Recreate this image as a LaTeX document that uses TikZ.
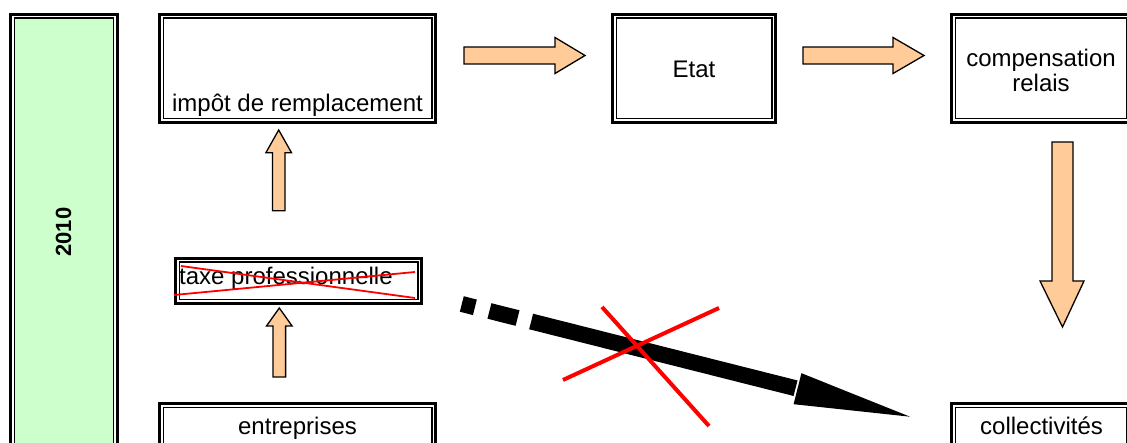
\documentclass[tikz,border=0pt]{standalone}
\usepackage{fontspec}
\setmainfont{Liberation Sans}
\usetikzlibrary{calc}
\definecolor{boxgreen}{HTML}{CCFFCC}
\definecolor{peach}{HTML}{FFCC99}
\newcommand\myUpArrow[4]{% cx, bottom, head base, tip
  \draw[blockarrow] (#1-6.3,#2) -- (#1-6.3,#3) -- (#1-12.8,#3) -- (#1,#4) -- (#1+12.8,#3) -- (#1+6.3,#3) -- (#1+6.3,#2) -- cycle;}
\newcommand\myRightArrow[4]{% cy, left, head base, tip
  \draw[blockarrow] (#2,#1-8.5) -- (#3,#1-8.5) -- (#3,#1-18) -- (#4,#1) -- (#3,#1+18) -- (#3,#1+8.5) -- (#2,#1+8.5) -- cycle;}
\begin{document}
\begin{tikzpicture}[x=1pt,y=-1pt,
  dbox/.style={draw, line width=2.8pt, inner sep=0pt, outer sep=0pt, rectangle},
  innerline/.style={line width=1.5pt},
  txt/.style={inner sep=0pt, anchor=base, font=\fontsize{24}{25}\selectfont},
  blockarrow/.style={draw=black, fill=peach, line width=1.3pt, line join=miter},
  redx/.style={draw=red, line width=4pt},
  redthin/.style={draw=red, line width=1.8pt}]
\useasboundingbox (0,0) rectangle (1127,443);
\clip (0,0) rectangle (1127,443);

% boxes
\node[dbox, minimum width=107pt, minimum height=544.5pt] (year) at (63.75,286.5) {};
\node[dbox, minimum width=276.5pt, minimum height=108.5pt] (imp) at (297.5,68.5) {};
\node[dbox, minimum width=163.5pt, minimum height=108.5pt] (etat) at (694,68.5) {};
\node[dbox, minimum width=179.5pt, minimum height=108.5pt] (comp) at (1041,68.5) {};
\node[dbox, minimum width=246.5pt, minimum height=45.5pt] (taxe) at (298.5,281) {};
\node[dbox, minimum width=276.5pt, minimum height=108.5pt] (entr) at (297.5,457.5) {};
\node[dbox, minimum width=179.5pt, minimum height=108.5pt] (coll) at (1041,457.5) {};

\fill[boxgreen] ([shift={(4.75,4.75)}]year.north west) rectangle ([shift={(-4.75,-4.75)}]year.south east);
\foreach \n in {year,imp,etat,comp,taxe,entr,coll}
  \draw[innerline] ([shift={(4,4)}]\n.north west) rectangle ([shift={(-4,-4)}]\n.south east);

% texts
\node[font=\bfseries\fontsize{22}{24}\selectfont, rotate=90, inner sep=0pt] (yr) at (63.5,232) {2010};
\node[txt] (timp) at (297.5,112) {impôt de remplacement};
\node[txt] (tetat) at (694,78) {Etat};
\node[txt] (tcomp1) at (1041,67) {compensation};
\node[txt] (tcomp2) at (1041,92) {relais};
\node[txt] (tentr) at (297.5,435) {entreprises};
\node[txt] (tcoll) at (1041.5,435) {collectivités};
\node[txt, anchor=base west] (ttaxe) at (179,285) {taxe professionnelle};

% strike-through of taxe professionnelle
\draw[redthin] (181,266) -- (415,298);
\draw[redthin] (174,295) -- (415,272);

% block arrows
\myUpArrow{278.7}{210.7}{152.7}{130}
\myUpArrow{279.3}{377}{326}{308}
\myRightArrow{55.5}{464}{555}{585}
\myRightArrow{55.5}{803}{893}{924}
\draw[blockarrow] (1052,142) -- (1073,142) -- (1073,281) -- (1084,281) -- (1062.5,327) -- (1040,281) -- (1052,281) -- cycle;

% crossed-out black arrow
\coordinate (bs) at (461.8,304);
\coordinate (bb) at (797.5,388.7);
\coordinate (bt) at (910,416.7);
\draw[line width=16pt, line cap=butt, dash pattern=on 13.5pt off 15pt on 29pt off 14pt on 2000pt] (bs) -- ($(bb)!-2pt!(bt)$);
\fill[black] (801.4,373.2) -- (bt) -- (793.6,404.2) -- cycle;

\draw[redx] (602,307) -- (709,426);
\draw[redx] (563,380) -- (719,308);
\end{tikzpicture}
\end{document}
